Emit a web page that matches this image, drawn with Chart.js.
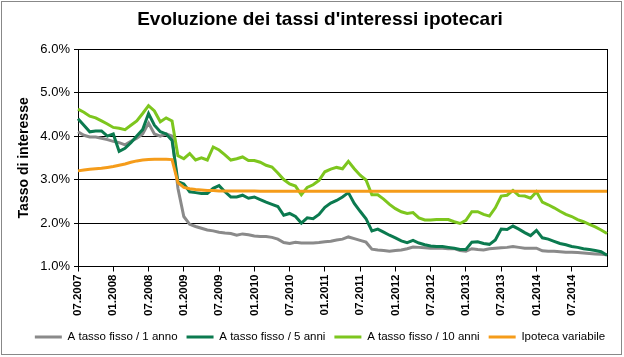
<!DOCTYPE html>
<html><head><meta charset="utf-8">
<script src="https://cdn.jsdelivr.net/npm/chart.js@4.4.1/dist/chart.umd.min.js"></script>
<style>
html,body{margin:0;padding:0;background:#fff;}
#wrap{position:relative;width:624px;height:357px;}
#c{position:absolute;left:0;top:0;}
#frame{position:absolute;left:1px;top:1px;width:619px;height:352px;border:1px solid #888;pointer-events:none;}
</style></head><body>
<div id="wrap"><canvas id="c" width="624" height="357"></canvas><div id="frame"></div></div>
<script>
const months = [
'07.2007','08.2007','09.2007','10.2007','11.2007','12.2007',
'01.2008','02.2008','03.2008','04.2008','05.2008','06.2008',
'07.2008','08.2008','09.2008','10.2008','11.2008','12.2008',
'01.2009','02.2009','03.2009','04.2009','05.2009','06.2009',
'07.2009','08.2009','09.2009','10.2009','11.2009','12.2009',
'01.2010','02.2010','03.2010','04.2010','05.2010','06.2010',
'07.2010','08.2010','09.2010','10.2010','11.2010','12.2010',
'01.2011','02.2011','03.2011','04.2011','05.2011','06.2011',
'07.2011','08.2011','09.2011','10.2011','11.2011','12.2011',
'01.2012','02.2012','03.2012','04.2012','05.2012','06.2012',
'07.2012','08.2012','09.2012','10.2012','11.2012','12.2012',
'01.2013','02.2013','03.2013','04.2013','05.2013','06.2013',
'07.2013','08.2013','09.2013','10.2013','11.2013','12.2013',
'01.2014','02.2014','03.2014','04.2014','05.2014','06.2014',
'07.2014','08.2014','09.2014','10.2014','11.2014','12.2014',
'01.2015'];

const seriesNames = ['A tasso fisso / 1 anno','A tasso fisso / 5 anni','A tasso fisso / 10 anni','Ipoteca variabile'];

const fisso1 = [4.10,4.02,3.98,3.98,3.95,3.92,3.88,3.85,3.80,3.88,3.95,4.05,4.30,4.05,4.00,4.05,4.00,2.80,2.15,1.97,1.92,1.88,1.84,1.82,1.79,1.77,1.76,1.72,1.75,1.73,1.70,1.69,1.69,1.67,1.63,1.55,1.53,1.56,1.54,1.54,1.54,1.55,1.57,1.58,1.61,1.63,1.68,1.64,1.60,1.56,1.40,1.38,1.37,1.35,1.37,1.38,1.41,1.45,1.44,1.43,1.42,1.42,1.42,1.41,1.41,1.37,1.35,1.41,1.39,1.38,1.41,1.42,1.43,1.44,1.46,1.44,1.42,1.42,1.42,1.36,1.35,1.35,1.34,1.33,1.33,1.32,1.31,1.30,1.29,1.28,1.27];

const fisso5 = [4.40,4.25,4.10,4.12,4.12,4.00,4.05,3.65,3.72,3.85,4.00,4.15,4.52,4.25,4.10,4.05,3.90,2.95,2.90,2.72,2.70,2.68,2.68,2.80,2.86,2.72,2.60,2.60,2.64,2.57,2.60,2.54,2.48,2.43,2.38,2.18,2.22,2.15,2.00,2.12,2.10,2.20,2.36,2.46,2.52,2.60,2.70,2.45,2.27,2.10,1.82,1.86,1.79,1.72,1.66,1.59,1.55,1.60,1.54,1.50,1.47,1.46,1.46,1.44,1.42,1.39,1.39,1.56,1.57,1.53,1.51,1.61,1.86,1.85,1.93,1.86,1.78,1.71,1.83,1.66,1.63,1.58,1.53,1.50,1.46,1.44,1.41,1.39,1.37,1.34,1.26];

const fisso10 = [4.62,4.55,4.46,4.42,4.35,4.28,4.20,4.18,4.15,4.25,4.35,4.52,4.70,4.58,4.33,4.42,4.35,3.55,3.48,3.60,3.45,3.50,3.45,3.75,3.68,3.57,3.45,3.48,3.52,3.44,3.44,3.40,3.33,3.29,3.15,3.00,2.90,2.85,2.65,2.82,2.88,2.98,3.18,3.24,3.28,3.25,3.42,3.25,3.10,2.99,2.65,2.65,2.55,2.43,2.33,2.26,2.22,2.24,2.12,2.07,2.07,2.08,2.08,2.08,2.03,1.99,2.06,2.26,2.26,2.20,2.16,2.35,2.62,2.64,2.75,2.63,2.62,2.57,2.72,2.48,2.42,2.35,2.27,2.20,2.15,2.08,2.03,1.97,1.91,1.84,1.76];

const variabile = [3.20,3.22,3.24,3.25,3.26,3.28,3.30,3.33,3.36,3.40,3.43,3.45,3.46,3.47,3.47,3.47,3.46,2.93,2.82,2.79,2.77,2.76,2.75,2.75,2.74,2.74,2.74,2.74,2.74,2.74,2.74,2.73,2.73,2.73,2.73,2.73,2.73,2.73,2.73,2.73,2.73,2.73,2.73,2.73,2.73,2.73,2.73,2.73,2.73,2.73,2.73,2.73,2.73,2.73,2.73,2.73,2.73,2.73,2.73,2.73,2.73,2.73,2.73,2.73,2.73,2.73,2.73,2.73,2.73,2.73,2.73,2.73,2.73,2.73,2.73,2.73,2.73,2.73,2.73,2.73,2.73,2.73,2.73,2.73,2.73,2.73,2.73,2.73,2.73,2.73,2.73];

const yTicks = [1,2,3,4,5,6];
const colors = ['#8a8a8a','#0b7a4f','#7dc61e','#f59c1a'];
const FONT = 'Liberation Sans, Arial, sans-serif';

const values = [fisso1, fisso5, fisso10, variabile];
const datasets = values.map((v,i)=>({
  label: seriesNames[i],
  data: v,
  borderColor: colors[i],
  backgroundColor: colors[i],
  borderWidth: 3,
  pointRadius: 0,
  tension: 0,
  fill: false,
  order: 4 - i
}));

new Chart(document.getElementById('c'), {
  type: 'line',
  data: { labels: months, datasets },
  options: {
    responsive: false,
    animation: false,
    layout: { padding: { left: 16, right: 0, top: 0, bottom: 4.25 } },
    plugins: {
      title: {
        display: true,
        text: "Evoluzione dei tassi d'interessi ipotecari",
        color: '#000',
        font: { family: FONT, size: 19, weight: 'bold' },
        padding: { top: 8, bottom: 18.4 }
      },
      legend: {
        position: 'bottom',
        labels: {
          usePointStyle: true,
          pointStyle: 'line',
          pointStyleWidth: 27,
          color: '#000',
          font: { family: FONT, size: 11.5 },
          padding: 9,
          sort: (a,b) => a.datasetIndex - b.datasetIndex
        }
      },
      tooltip: { enabled: false }
    },
    scales: {
      x: {
        type: 'category',
        offset: false,
        grid: { drawOnChartArea: false, drawTicks: true, tickLength: 5, color: '#000' },
        border: { display: true, color: '#000' },
        ticks: {
          autoSkip: false,
          minRotation: 90, maxRotation: 90,
          padding: 3,
          color: '#000',
          font: { family: FONT, size: 11.5, weight: 'bold' },
          callback: function(value, index) {
            return (index % 6 === 0 && index < months.length - 1) ? this.getLabelForValue(value) : null;
          }
        },
        afterFit: s => { s.height = 55.75; }
      },
      y: {
        min: 1, max: 6,
        afterBuildTicks: s => { s.ticks = yTicks.map(v => ({ value: v })); },
        grid: { color: '#000', lineWidth: 1, drawTicks: true, tickLength: 4 },
        border: { display: true, color: '#000' },
        ticks: {
          padding: 4,
          color: '#000',
          font: { family: FONT, size: 13 },
          callback: v => v.toFixed(1) + '%'
        },
        title: {
          display: true,
          text: 'Tasso di interesse',
          color: '#000',
          font: { family: FONT, size: 14, weight: 'bold' },
          padding: { top: 0, bottom: 0 }
        },
        afterFit: s => { s.width = 62; }
      },
      yR: {
        type: 'linear',
        position: 'right',
        display: true,
        grid: { display: false },
        ticks: { display: false },
        border: { display: true, color: '#000' },
        afterFit: s => { s.width = 17; }
      }
    }
  }
});
</script>
</body></html>
